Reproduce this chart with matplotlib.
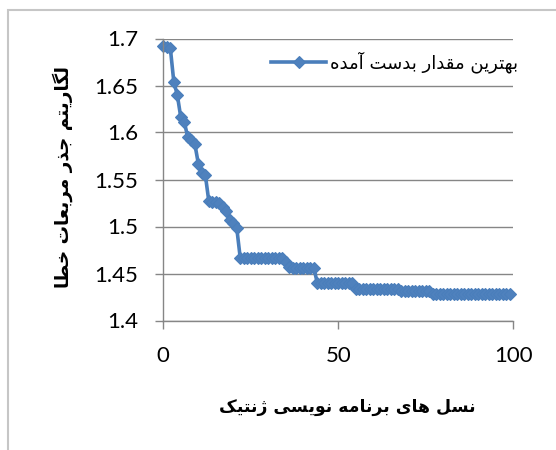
import matplotlib
matplotlib.use('Agg')
import matplotlib.pyplot as plt
from matplotlib.patches import Rectangle

# generation index and best value found
generations = list(range(100))
best_values = [
    1.692, 1.691, 1.690, 1.654, 1.640, 1.616, 1.611, 1.595, 1.592, 1.588,
    1.567, 1.557, 1.555, 1.527, 1.526, 1.526, 1.525, 1.521, 1.516, 1.507,
    1.504, 1.498, 1.466, 1.466, 1.466, 1.466, 1.466, 1.466, 1.466, 1.466,
    1.466, 1.466, 1.466, 1.466, 1.466, 1.462, 1.457, 1.456, 1.456, 1.456,
    1.456, 1.456, 1.456, 1.456, 1.440, 1.440, 1.440, 1.440, 1.440, 1.440,
    1.440, 1.440, 1.440, 1.440, 1.440, 1.433, 1.433, 1.433, 1.433, 1.433,
    1.433, 1.433, 1.433, 1.433, 1.433, 1.433, 1.433, 1.433, 1.431, 1.431,
    1.431, 1.431, 1.431, 1.431, 1.431, 1.431, 1.431, 1.428, 1.428, 1.428,
    1.428, 1.428, 1.428, 1.428, 1.428, 1.428, 1.428, 1.428, 1.428, 1.428,
    1.428, 1.428, 1.428, 1.428, 1.428, 1.428, 1.428, 1.428, 1.428, 1.428,
]
y_ticks = [1.4, 1.45, 1.5, 1.55, 1.6, 1.65, 1.7]
y_tick_labels = ['1.4', '1.45', '1.5', '1.55', '1.6', '1.65', '1.7']
x_ticks = [0, 50, 100]
x_tick_labels = ['0', '50', '100']

series_name = 'بهترین مقدار بدست آمده'
x_title = 'نسل های برنامه نویسی ژنتیک'
y_title = 'لگاریتم جذر مربعات خطا'

# matplotlib does no Arabic shaping, so pick the presentation forms by hand
# (isolated, final, initial, medial)
FORMS = {
    'ا': ('\uFE8D', '\uFE8E', None, None),
    'آ': ('\uFE81', '\uFE82', None, None),
    'ب': ('\uFE8F', '\uFE90', '\uFE91', '\uFE92'),
    'ت': ('\uFE95', '\uFE96', '\uFE97', '\uFE98'),
    'ج': ('\uFE9D', '\uFE9E', '\uFE9F', '\uFEA0'),
    'خ': ('\uFEA5', '\uFEA6', '\uFEA7', '\uFEA8'),
    'د': ('\uFEA9', '\uFEAA', None, None),
    'ذ': ('\uFEAB', '\uFEAC', None, None),
    'ر': ('\uFEAD', '\uFEAE', None, None),
    'ژ': ('\uFB8A', '\uFB8B', None, None),
    'س': ('\uFEB1', '\uFEB2', '\uFEB3', '\uFEB4'),
    'ط': ('\uFEC1', '\uFEC2', '\uFEC3', '\uFEC4'),
    'ع': ('\uFEC9', '\uFECA', '\uFECB', '\uFECC'),
    'ق': ('\uFED5', '\uFED6', '\uFED7', '\uFED8'),
    'ک': ('\uFB8E', '\uFB8F', '\uFB90', '\uFB91'),
    'ك': ('\uFB8E', '\uFB8F', '\uFB90', '\uFB91'),
    'گ': ('\uFB92', '\uFB93', '\uFB94', '\uFB95'),
    'ل': ('\uFEDD', '\uFEDE', '\uFEDF', '\uFEE0'),
    'م': ('\uFEE1', '\uFEE2', '\uFEE3', '\uFEE4'),
    'ن': ('\uFEE5', '\uFEE6', '\uFEE7', '\uFEE8'),
    'ه': ('\uFEE9', '\uFEEA', '\uFEEB', '\uFEEC'),
    'و': ('\uFEED', '\uFEEE', None, None),
    'ی': ('\uFBFC', '\uFBFD', '\uFBFE', '\uFBFF'),
    'ي': ('\uFBFC', '\uFBFD', '\uFBFE', '\uFBFF'),
}


def shape(s):
    out = []
    for i, c in enumerate(s):
        if c not in FORMS:
            out.append(c)
            continue
        prev = s[i - 1] if i > 0 else ''
        nxt = s[i + 1] if i + 1 < len(s) else ''
        join_prev = prev in FORMS and FORMS[prev][2] is not None
        join_next = FORMS[c][2] is not None and nxt in FORMS
        iso, fin, ini, med = FORMS[c]
        if join_prev and join_next:
            out.append(med)
        elif join_prev:
            out.append(fin)
        elif join_next:
            out.append(ini)
        else:
            out.append(iso)
    return ''.join(reversed(out))


W, H = 556, 450
fig = plt.figure(figsize=(W / 100, H / 100), dpi=100)
ax = fig.add_axes([163.3 / W, 1 - 320.5 / H, 350 / W, 282 / H])

ax.plot(generations, best_values, color='#4A7EBB', lw=2.6, marker='D', ms=6,
        mew=0.8, mfc='#4F81BD', mec='#4A7EBB', label=shape(series_name),
        clip_on=False)

ax.set_xlim(0, 100)
ax.set_ylim(1.4, 1.7)
ax.set_xticks(x_ticks)
ax.set_xticklabels(x_tick_labels, family='Lato', fontsize=16)
ax.set_yticks(y_ticks)
ax.set_yticklabels(y_tick_labels, family='Lato', fontsize=16)
ax.tick_params(axis='both', direction='out', length=5.5, width=1, color='#868686')
ax.tick_params(axis='x', pad=12.5)
ax.tick_params(axis='y', pad=12.5)
ax.yaxis.grid(True, color='#868686', lw=1)
ax.set_axisbelow(True)
for s in ['top', 'right']:
    ax.spines[s].set_visible(False)
for s in ['left', 'bottom']:
    ax.spines[s].set_color('#868686')
    ax.spines[s].set_linewidth(1)

ax.legend(loc='center left', bbox_to_anchor=(271 / W, 1 - 62 / H),
          bbox_transform=fig.transFigure, frameon=False, borderpad=0,
          borderaxespad=0, handlelength=3.05, handletextpad=0.2,
          prop={'family': 'DejaVu Sans', 'size': 13})

fig.text(62.5 / W, 1 - 177 / H, shape(y_title), rotation=90, ha='center',
         va='center', family='DejaVu Sans', fontweight='bold', fontsize=13.2)
fig.text(347.5 / W, 1 - 406.5 / H, shape(x_title), ha='center', va='center',
         family='DejaVu Sans', fontweight='bold', fontsize=12.4)

# chart area border (top and left edges visible in the crop)
fig.add_artist(Rectangle((7.5 / W, -0.5), 2, 0.5 + (1 - 9.5 / H),
                         transform=fig.transFigure, fill=False,
                         edgecolor='#c6c6c6', lw=1.5))

fig.savefig('out.png', dpi=100)
